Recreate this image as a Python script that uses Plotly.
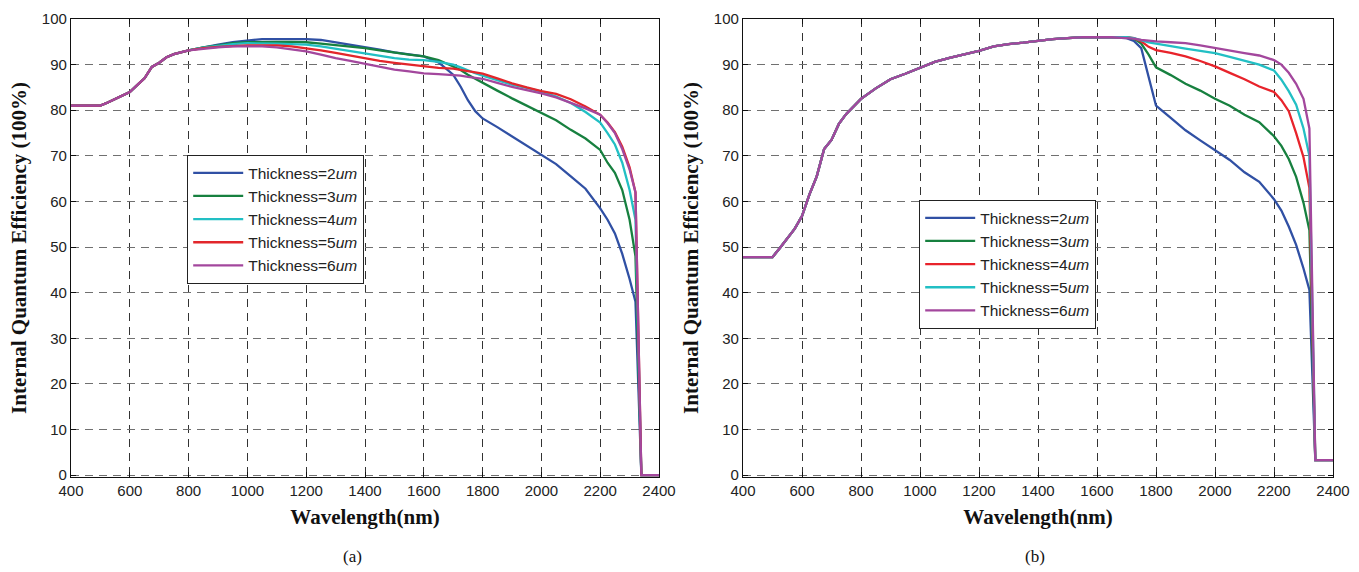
import plotly.graph_objects as go

# ---------------- data ----------------
wl = [400, 450, 500, 525, 550, 575, 600, 625, 650, 675, 700, 725, 750, 800,
      850, 900, 950, 1000, 1050, 1100, 1150, 1200, 1250, 1300, 1350, 1400,
      1450, 1500, 1550, 1600, 1650, 1700, 1725, 1750, 1775, 1800, 1850, 1900,
      1950, 2000, 2050, 2100, 2150, 2200, 2225, 2250, 2275, 2300, 2320, 2340,
      2360, 2380, 2400]

# panel (a): shared part 400-800 nm
a_common = [81.0, 81.0, 81.0, 81.7, 82.5, 83.3, 84.0, 85.5, 87.0, 89.5, 90.4, 91.6, 92.3, 93.1]
a_2um = [93.8, 94.4, 94.9, 95.3, 95.6, 95.6, 95.6, 95.6, 95.4, 94.9, 94.4, 93.8, 93.3, 92.7, 92.3,
         91.8, 90.5, 87.8, 85.2, 82.2, 79.8, 78.2, 76.3, 74.3, 72.3, 70.2, 68.2, 65.5, 62.8, 58.5,
         56.0, 53.0, 48.5, 43.0, 38.0, 0.0, 0.0, 0.0, 0.0]
a_3um = [93.8, 94.2, 94.7, 94.9, 95.0, 95.0, 95.0, 94.9, 94.6, 94.3, 94.0, 93.6, 93.1, 92.6, 92.2,
         91.8, 91.0, 89.6, 88.8, 87.8, 86.9, 86.0, 84.3, 82.6, 81.0, 79.4, 77.8, 75.7, 73.8, 71.3,
         68.5, 66.3, 62.5, 56.0, 48.0, 0.0, 0.0, 0.0, 0.0]
a_4um = [93.7, 94.1, 94.5, 94.7, 94.7, 94.6, 94.5, 94.4, 94.0, 93.5, 93.0, 92.4, 91.9, 91.4, 91.1,
         91.0, 90.6, 90.0, 89.4, 88.7, 88.1, 87.6, 86.6, 85.6, 84.9, 84.1, 83.0, 81.6, 79.6, 77.3,
         75.0, 72.5, 68.5, 62.5, 56.0, 0.0, 0.0, 0.0, 0.0]
a_5um = [93.6, 93.9, 94.1, 94.2, 94.2, 94.2, 94.0, 93.6, 93.1, 92.6, 92.0, 91.3, 90.8, 90.4, 90.0,
         89.6, 89.3, 89.1, 88.8, 88.5, 88.2, 88.0, 87.0, 85.9, 85.0, 84.2, 83.6, 82.4, 80.8, 79.0,
         77.3, 75.2, 72.0, 67.5, 62.0, 0.0, 0.0, 0.0, 0.0]
a_6um = [93.5, 93.8, 94.0, 94.0, 94.0, 93.8, 93.4, 92.9, 92.2, 91.4, 90.8, 90.2, 89.5, 88.9, 88.5,
         88.1, 87.9, 87.8, 87.6, 87.3, 87.1, 86.9, 86.0, 85.1, 84.4, 83.7, 82.8, 81.6, 80.4, 79.0,
         77.2, 75.0, 71.5, 67.0, 62.0, 0.0, 0.0, 0.0, 0.0]

# panel (b): shared part 400-1650 nm
b_common = [47.8, 47.8, 47.8, 49.8, 51.8, 54.0, 56.8, 61.5, 65.5, 71.5, 73.5, 77.0, 79.2, 82.5,
            84.8, 86.8, 88.0, 89.3, 90.6, 91.5, 92.2, 93.0, 94.0, 94.5, 94.8, 95.2, 95.6, 95.8,
            96.0, 96.0, 96.0]
b_2um = [95.8, 95.2, 93.6, 87.5, 81.0, 78.3, 75.6, 73.4, 71.2, 69.1, 66.4, 64.3, 60.5, 58.0,
         54.5, 50.5, 45.3, 40.6, 3.3, 3.3, 3.3, 3.3]
b_3um = [96.0, 95.7, 94.6, 92.2, 89.4, 87.7, 85.8, 84.3, 82.5, 81.0, 79.0, 77.4, 74.3, 72.2,
         69.3, 65.4, 59.7, 53.7, 3.3, 3.3, 3.3, 3.3]
b_4um = [96.0, 95.8, 95.1, 93.9, 93.2, 92.6, 91.8, 90.8, 89.6, 88.2, 86.8, 85.2, 84.0, 82.2,
         79.8, 75.0, 69.7, 63.0, 3.3, 3.3, 3.3, 3.3]
b_5um = [96.0, 95.8, 95.3, 94.9, 94.6, 94.0, 93.5, 93.0, 92.5, 91.7, 90.9, 90.0, 88.7, 86.7,
         84.2, 81.2, 76.0, 70.0, 3.3, 3.3, 3.3, 3.3]
b_6um = [95.8, 95.7, 95.4, 95.2, 95.1, 94.9, 94.7, 94.2, 93.6, 93.1, 92.5, 92.0, 91.0, 90.0,
         88.2, 85.8, 82.5, 76.0, 3.3, 3.3, 3.3, 3.3]

labels_a = ["Thickness=2<i>um</i>", "Thickness=3<i>um</i>", "Thickness=4<i>um</i>",
            "Thickness=5<i>um</i>", "Thickness=6<i>um</i>"]
labels_b = labels_a
colors_a = ["#3050A4", "#17803F", "#22BFC4", "#E2262B", "#A3479D"]
colors_b = ["#3050A4", "#17803F", "#E8232B", "#22BFC4", "#A3479D"]

x_ticks = [400, 600, 800, 1000, 1200, 1400, 1600, 1800, 2000, 2200, 2400]
y_ticks = [0, 10, 20, 30, 40, 50, 60, 70, 80, 90, 100]

# ---------------- figure ----------------
fig = go.Figure()

series_a = [a_2um, a_3um, a_4um, a_5um, a_6um]
for name, col, vals in zip(labels_a, colors_a, series_a):
    fig.add_trace(go.Scatter(x=wl, y=a_common + vals, mode="lines", name=name,
                             line=dict(color=col, width=2.3),
                             xaxis="x", yaxis="y", legend="legend"))

series_b = [b_2um, b_3um, b_4um, b_5um, b_6um]
for name, col, vals in zip(labels_b, colors_b, series_b):
    fig.add_trace(go.Scatter(x=wl, y=b_common + vals, mode="lines", name=name,
                             line=dict(color=col, width=2.3),
                             xaxis="x2", yaxis="y2", legend="legend2"))

tickfont = dict(family="Liberation Sans, Arial", size=15, color="#222222")
titlefont = dict(family="Liberation Serif, Times New Roman", size=21, color="#111111", weight="bold")

def xax(domain, anchor):
    return dict(domain=domain, anchor=anchor, range=[400, 2400], tickvals=x_ticks,
                showgrid=True, gridcolor="#333333", griddash="8px,6px", gridwidth=1,
                showline=True, linecolor="#111111", linewidth=1.3, mirror="ticks",
                ticks="inside", ticklen=5, tickcolor="#111111", automargin=False,
                tickfont=tickfont, zeroline=False, layer="below traces",
                title=dict(text="Wavelength(nm)", font=titlefont, standoff=11))

def yax(domain, anchor):
    return dict(domain=domain, anchor=anchor, range=[-0.4, 100], tickvals=y_ticks,
                showgrid=True, gridcolor="#707070", griddash="8px,6px", gridwidth=1.2,
                showline=True, linecolor="#111111", linewidth=1.3, mirror="ticks",
                ticks="inside", ticklen=5, tickcolor="#111111", automargin=False,
                tickfont=tickfont, zeroline=False, layer="below traces",
                title=dict(text="Internal Quantum Efficiency (100%)", font=titlefont, standoff=9))

ydom = [1 - 477 / 572, 1 - 19 / 572]
legfont = dict(family="Liberation Sans, Arial", size=15.5, color="#222222")
capfont = dict(family="Liberation Serif, Times New Roman", size=17, color="#111111")

fig.update_layout(
    width=1359, height=572,
    margin=dict(l=0, r=0, t=0, b=0),
    paper_bgcolor="white", plot_bgcolor="white",
    xaxis=xax([71 / 1359, 659 / 1359], "y"),
    yaxis=yax(ydom, "x"),
    xaxis2=xax([743 / 1359, 1333 / 1359], "y2"),
    yaxis2=yax(ydom, "x2"),
    legend=dict(x=187 / 1359, y=1 - 155 / 572, xanchor="left", yanchor="top",
                bgcolor="white", bordercolor="#222222", borderwidth=1.2,
                font=legfont, itemwidth=50),
    legend2=dict(x=919 / 1359, y=1 - 200 / 572, xanchor="left", yanchor="top",
                 bgcolor="white", bordercolor="#222222", borderwidth=1.2,
                 font=legfont, itemwidth=50),
    annotations=[
        dict(text="(a)", x=352 / 1359, y=1 - 556 / 572, xref="paper", yref="paper",
             xanchor="center", yanchor="middle", showarrow=False, font=capfont),
        dict(text="(b)", x=1035 / 1359, y=1 - 556 / 572, xref="paper", yref="paper",
             xanchor="center", yanchor="middle", showarrow=False, font=capfont),
    ],
)

fig.write_html("out.html", config={"displayModeBar": False},
               post_script="document.body.style.margin='0';document.body.style.overflow='hidden';")
